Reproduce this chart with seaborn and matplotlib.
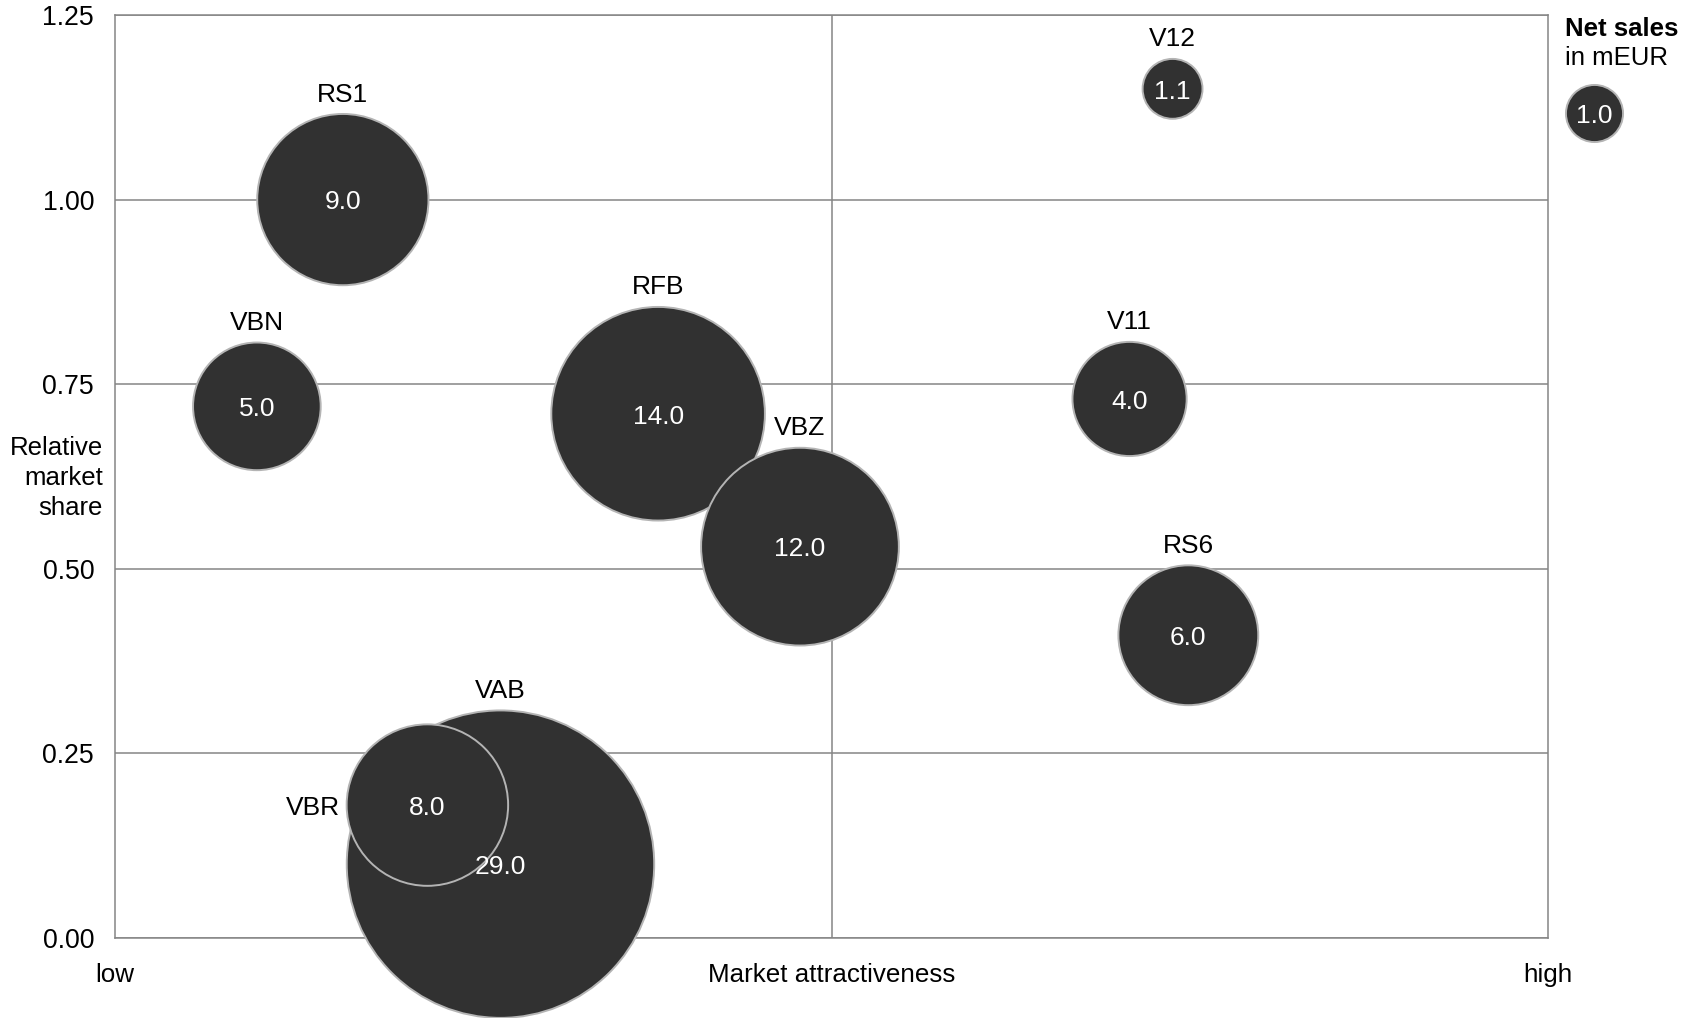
import matplotlib.pyplot as plt
import numpy as np
import pandas as pd
import seaborn as sns

# bubble data: product, market attractiveness (0=low, 1=high), relative market share, net sales in mEUR
names = ["RS1", "VBN", "RFB", "VBZ", "V11", "RS6", "V12", "VAB", "VBR"]
attractiveness = [0.159, 0.099, 0.379, 0.478, 0.708, 0.749, 0.738, 0.269, 0.218]
market_share = [1.00, 0.72, 0.71, 0.53, 0.73, 0.41, 1.15, 0.10, 0.18]
net_sales = [9.0, 5.0, 14.0, 12.0, 4.0, 6.0, 1.1, 29.0, 8.0]
label_side = ["top", "top", "top", "top", "top", "top", "top", "top", "left"]

legend_value = 1.0
y_ticks = [0.0, 0.25, 0.50, 0.75, 1.00, 1.25]
x_ticks = [0.0, 0.5, 1.0]
x_tick_labels = ["low", "Market attractiveness", "high"]

sns.set_style("white")
plt.rcParams["font.family"] = ["Liberation Sans", "DejaVu Sans"]
plt.rcParams["text.color"] = "black"
plt.rcParams["xtick.labelcolor"] = "black"
plt.rcParams["ytick.labelcolor"] = "black"

FILL = "#313131"
EDGE = "#b4b4b4"
GRID = "#858585"
SMAX = 49000  # marker area (pt^2) for the largest value
SIZE_NORM = (0, 29.0)
FS = 19

df = pd.DataFrame({"name": names, "x": attractiveness, "y": market_share,
                   "sales": net_sales, "side": label_side})

fig = plt.figure(figsize=(17, 10.18), dpi=100)
ax = fig.add_axes([115 / 1700, 1 - 938 / 1018, 1433 / 1700, 923 / 1018])

sns.scatterplot(data=df, x="x", y="y", size="sales", sizes=(0, SMAX),
                size_norm=SIZE_NORM, color=FILL, edgecolor=EDGE, linewidth=1.4,
                alpha=1, legend=False, ax=ax, zorder=3, clip_on=False)

# legend bubble, placed outside the plot area
sns.scatterplot(x=[1.032], y=[1.117], size=[legend_value], sizes=(0, SMAX),
                size_norm=SIZE_NORM, color=FILL, edgecolor=EDGE, linewidth=1.4,
                alpha=1, legend=False, ax=ax, zorder=3, clip_on=False)


def radius_pt(v):
    return np.sqrt(SMAX * v / SIZE_NORM[1]) / 2


for _, r in df.iterrows():
    rad = radius_pt(r["sales"])
    ax.annotate(f"{r['sales']:.1f}", (r["x"], r["y"]), xytext=(0, -2),
                textcoords="offset points", ha="center", va="center",
                color="white", fontsize=FS, zorder=4)
    if r["side"] == "top":
        ax.annotate(r["name"], (r["x"], r["y"]), xytext=(0, rad + 14),
                    textcoords="offset points", ha="center", va="center",
                    fontsize=FS, zorder=4)
    else:
        ax.annotate(r["name"], (r["x"], r["y"]), xytext=(-rad - 5, -2),
                    textcoords="offset points", ha="right", va="center",
                    fontsize=FS, zorder=4)

ax.annotate(f"{legend_value:.1f}", (1.032, 1.117), xytext=(0, -2),
            textcoords="offset points", ha="center", va="center",
            color="white", fontsize=FS, zorder=4, annotation_clip=False)
fig.text(1565 / 1700, 1 - 29 / 1018, "Net sales", fontsize=18.5, fontweight="bold",
         ha="left", va="center")
fig.text(1565 / 1700, 1 - 58 / 1018, "in mEUR", fontsize=18.5, ha="left", va="center")
fig.text(103 / 1700, 1 - 478 / 1018, "Relative\nmarket\nshare", fontsize=18.5,
         ha="right", va="center", multialignment="right", linespacing=1.3)

ax.set_xlim(0, 1)
ax.set_ylim(0, 1.25)
ax.set_yticks(y_ticks)
ax.set_yticklabels([f"{t:.2f}" for t in y_ticks])
ax.set_xticks(x_ticks)
ax.set_xticklabels(x_tick_labels)
ax.set_xlabel("")
ax.set_ylabel("")
ax.tick_params(axis="y", direction="out", length=9, width=1.1, color=GRID,
               pad=6, labelsize=19.2)
ax.tick_params(axis="x", direction="out", length=7, width=1.1, color=GRID,
               pad=11, labelsize=18.7)
ax.xaxis.get_major_ticks()[1].tick1line.set_visible(False)

ax.set_axisbelow(True)
ax.grid(axis="y", color=GRID, linewidth=1.1)
ax.axvline(0.5, color=GRID, linewidth=1.1, zorder=1)
for sp in ax.spines.values():
    sp.set_color(GRID)
    sp.set_linewidth(1.1)

fig.savefig("out.png", dpi=100)
